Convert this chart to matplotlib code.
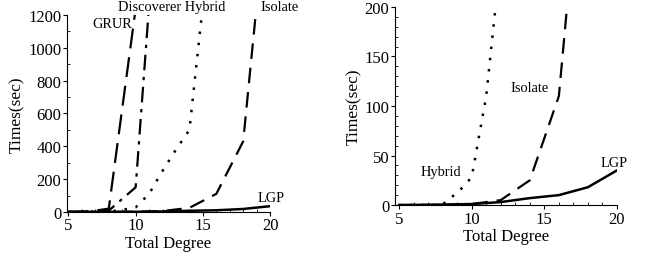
import numpy as np
import matplotlib
matplotlib.use("Agg")
import matplotlib.pyplot as plt
from matplotlib.ticker import MultipleLocator

plt.rcParams['font.family'] = ['Liberation Serif', 'DejaVu Serif']

# data (total degree -> time in seconds)
grurX = [5, 6, 7, 8, 10]
grurY = [0, 2, 8, 20, 1240]
discX = [5, 6, 7, 8, 10, 11]
discY = [0, 0, 2, 8, 150, 1260]
hybX = [5, 6, 7, 8, 8.3, 9, 10, 11, 12, 13, 14, 15]
hybY = [0, 0, 0, 0, 5, 12, 28, 110, 250, 380, 500, 1260]
isoX = [5, 8, 10, 12, 14, 16, 18, 19]
isoY = [0, 0, 1, 5, 25, 110, 430, 1260]
lgpX = [5, 8, 10, 12, 14, 16, 18, 20]
lgpY = [0, 0.5, 1, 3, 7, 10, 18, 35]

lineStyles = {
    'GRUR': (0, (9, 4)),
    'Discoverer': (0, (7, 3, 1.5, 3)),
    'Hybrid': (0, (1, 3.5)),
    'Isolate': (0, (7, 4)),
    'LGP': '-',
}


def styleAxis(ax, ymax, ymajor, yminor, xleft):
    ax.set_xlim(xleft, 20)
    ax.set_ylim(0, ymax)
    ax.spines['top'].set_visible(False)
    ax.spines['right'].set_visible(False)
    ax.set_xticks([5, 10, 15, 20])
    ax.yaxis.set_major_locator(MultipleLocator(ymajor))
    ax.yaxis.set_minor_locator(MultipleLocator(yminor))
    ax.xaxis.set_minor_locator(MultipleLocator(1))
    ax.tick_params(which='major', direction='out', length=3, labelsize=12, pad=1)
    ax.tick_params(which='minor', direction='in', length=2)
    ax.set_xlabel('Total Degree', fontsize=12, labelpad=1)
    ax.set_ylabel('Times(sec)', fontsize=12.5, labelpad=2)


fig = plt.figure(figsize=(6.52, 2.55), dpi=100)

# left chart: every method
ax1 = fig.add_axes([0.1023, 0.165, 0.3119, 0.772])
ax1.plot(grurX, grurY, color='black', lw=1.6, ls=lineStyles['GRUR'])
ax1.plot(discX, discY, color='black', lw=1.6, ls=lineStyles['Discoverer'])
ax1.plot(hybX, hybY, color='black', lw=1.8, ls=lineStyles['Hybrid'])
ax1.plot(isoX, isoY, color='black', lw=1.6, ls=lineStyles['Isolate'])
ax1.plot(lgpX, lgpY, color='black', lw=1.8, ls=lineStyles['LGP'])
styleAxis(ax1, 1200, 200, 100, 4.87)
ax1.text(6.8, 1150, 'GRUR', fontsize=10.4, va='center', clip_on=False)
ax1.text(8.72, 1255, 'Discoverer Hybrid', fontsize=10.4, va='center', clip_on=False)
ax1.text(19.3, 1255, 'Isolate', fontsize=10.4, va='center', clip_on=False)
ax1.text(19.1, 85, 'LGP', fontsize=10.4, va='center', clip_on=False)

# right chart: zoomed in on the faster ones
ax2 = fig.add_axes([0.6058, 0.192, 0.3405, 0.777])
ax2.plot(hybX, hybY, color='black', lw=1.8, ls=lineStyles['Hybrid'])
ax2.plot(isoX, isoY, color='black', lw=1.6, ls=lineStyles['Isolate'])
ax2.plot(lgpX, lgpY, color='black', lw=1.8, ls=lineStyles['LGP'])
styleAxis(ax2, 200, 50, 10, 4.72)
ax2.text(12.66, 119, 'Isolate', fontsize=10.4, va='center')
ax2.text(6.45, 34, 'Hybrid', fontsize=10.4, va='center')
ax2.text(18.86, 43, 'LGP', fontsize=10.4, va='center')

fig.savefig('out.png', dpi=100)
